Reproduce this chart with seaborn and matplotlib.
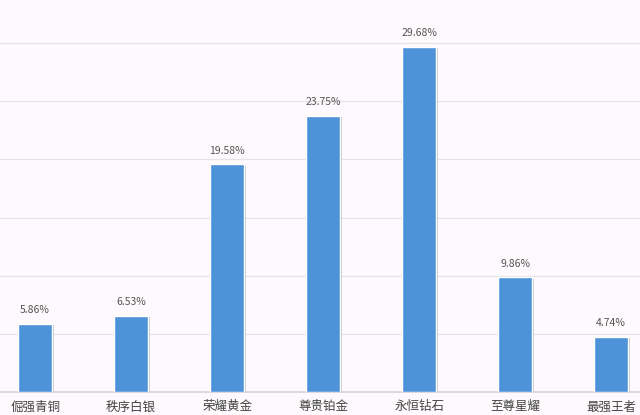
import matplotlib
matplotlib.use("Agg")
import matplotlib.pyplot as plt
import matplotlib.patheffects as pe
import seaborn as sns
import pandas as pd

categories = ["倔强青铜", "秩序白银", "荣耀黄金", "尊贵铂金", "永恒钻石", "至尊星耀", "最强王者"]
values = [5.86, 6.53, 19.58, 23.75, 29.68, 9.86, 4.74]
labels = ["5.86%", "6.53%", "19.58%", "23.75%", "29.68%", "9.86%", "4.74%"]

df = pd.DataFrame({"cat": categories, "val": values})

sns.set_theme(style="white")
plt.rcParams['font.family'] = ['Noto Sans CJK SC', 'DejaVu Sans']

bg = "#fdf9fc"
fig = plt.figure(figsize=(6.4, 4.15), dpi=100, facecolor=bg)
ax = fig.add_axes([0, 23/415, 1, 392/415])
ax.set_facecolor(bg)

sns.barplot(data=df, x="cat", y="val", color="#4e92d8", width=0.355,
            saturation=1, ax=ax, zorder=3)
for p in ax.patches:
    p.set_path_effects([pe.SimplePatchShadow(offset=(1.5, -1), shadow_rgbFace="#9aa4b0", alpha=0.6), pe.Normal()])

for i, (v, t) in enumerate(zip(values, labels)):
    ax.text(i, v + 0.75, t, ha="center", va="bottom", fontsize=7.5, color="#555555")

ax.set_xlim(-0.365, 6.30)
ax.set_ylim(0, 33.7)
ax.set_yticks([0, 5, 10, 15, 20, 25, 30])
ax.yaxis.grid(True, color="#e6e2e6", linewidth=0.9, zorder=0)
ax.set_axisbelow(True)
ax.tick_params(axis="y", left=False, labelleft=False)
ax.tick_params(axis="x", bottom=False, labelsize=9, colors="#444444", pad=0)
ax.set_xlabel("")
ax.set_ylabel("")
for s in ["top", "left", "right"]:
    ax.spines[s].set_visible(False)
ax.spines["bottom"].set_color("#d8d4d8")

fig.savefig("out.png", dpi=100, facecolor=bg)
